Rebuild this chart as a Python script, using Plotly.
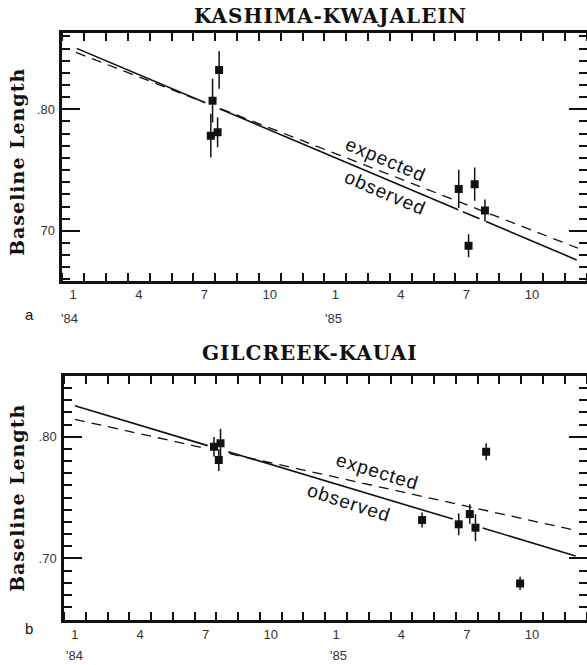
import plotly.graph_objects as go

# x = months since 1 Jan 1984 (month boundaries at integers)
month_bounds = list(range(0, 25))
label_pos = [0.5, 3.5, 6.5, 9.5, 12.5, 15.5, 18.5, 21.5]
label_text = ["1", "4", "7", "10", "1", "4", "7", "10"]
year_text = ["'84", "'85"]

# Panel a: KASHIMA-KWAJALEIN
a_month = [6.80, 6.88, 7.11, 7.18, 18.15, 18.60, 18.88, 19.35]
a_value = [0.7783, 0.8071, 0.7811, 0.8323, 0.7345, 0.6877, 0.7384, 0.7167]
a_err = [0.018, 0.018, 0.0123, 0.0155, 0.0157, 0.0095, 0.0137, 0.009]
a_obs_month = [0.66, 6.55, None, 7.2, 18.13, None, 18.34, 19.1, None, 19.4, 23.55]
a_obs_value = [0.8501, 0.8053, None, 0.8004, 0.7173, None, 0.7157, 0.7100, None, 0.7077, 0.6761]
a_exp_month = [0.63, 6.5, None, 7.25, 23.6]
a_exp_value = [0.8468, 0.8057, None, 0.8004, 0.6858]

# Panel b: GILCREEK-KAUAI
b_month = [6.89, 7.11, 7.19, 16.45, 18.13, 18.64, 18.90, 19.39, 20.95]
b_value = [0.7918, 0.7808, 0.7946, 0.7315, 0.7280, 0.7364, 0.7252, 0.7877, 0.6794]
b_err = [0.008, 0.009, 0.012, 0.0062, 0.009, 0.008, 0.011, 0.007, 0.0055]
b_obs_month = [0.5, 6.6, None, 7.54, 17.86, None, 19.23, 23.5]
b_obs_value = [0.8255, 0.7927, None, 0.7877, 0.7323, None, 0.7249, 0.7020]
b_exp_month = [0.5, 6.5, None, 7.6, 23.5]
b_exp_value = [0.8143, 0.7905, None, 0.7861, 0.7230]

FW, FH = 587, 665


def xp(px):
    return px / FW


def yp(py):
    return 1 - py / FH


BLACK = "#111111"
TICKFONT = dict(family="Liberation Sans, Arial, sans-serif", size=13, color="#333333")
SERIF_B = dict(family="DejaVu Serif, serif", size=20, color=BLACK, weight="bold")
LABFONT = dict(family="Liberation Sans, Arial, sans-serif", size=19, color=BLACK)

fig = go.Figure()


def add_panel(xa, ya, months, values, errs, om, ov, em, ev):
    fig.add_trace(go.Scatter(x=om, y=ov, mode="lines", xaxis=xa, yaxis=ya,
                             line=dict(color=BLACK, width=1.6), connectgaps=False,
                             showlegend=False, hoverinfo="skip"))
    fig.add_trace(go.Scatter(x=em, y=ev, mode="lines", xaxis=xa, yaxis=ya,
                             line=dict(color=BLACK, width=1.3, dash="10px,7px"),
                             connectgaps=False, showlegend=False, hoverinfo="skip"))
    fig.add_trace(go.Scatter(x=months, y=values, mode="markers", xaxis=xa, yaxis=ya,
                             marker=dict(symbol="square", size=8, color=BLACK),
                             error_y=dict(type="data", array=errs, visible=True,
                                          thickness=1.5, width=0, color=BLACK),
                             showlegend=False))


add_panel("x", "y", a_month, a_value, a_err, a_obs_month, a_obs_value, a_exp_month, a_exp_value)
add_panel("x2", "y2", b_month, b_value, b_err, b_obs_month, b_obs_value, b_exp_month, b_exp_value)


def xaxis_cfg(domain, anchor):
    return dict(domain=domain, anchor=anchor, range=[0, 24], automargin=False,
                tickmode="array", tickvals=label_pos, ticktext=label_text,
                ticks="", tickfont=TICKFONT, ticklabelstandoff=0,
                minor=dict(tickmode="array", tickvals=month_bounds, ticks="inside",
                           ticklen=8, tickwidth=1.5, tickcolor=BLACK),
                showline=True, linecolor=BLACK, linewidth=3, mirror="ticks",
                showgrid=False, zeroline=False, fixedrange=True)


def yaxis_cfg(domain, anchor, rng, ticktext):
    return dict(domain=domain, anchor=anchor, range=rng, automargin=False,
                tickmode="array", tickvals=[0.70, 0.80], ticktext=ticktext,
                ticks="inside", ticklen=18, tickwidth=2, tickcolor=BLACK,
                tickfont=TICKFONT, ticklabelstandoff=2,
                minor=dict(tickmode="linear", tick0=0, dtick=0.01, ticks="inside",
                           ticklen=8, tickwidth=1.5, tickcolor=BLACK),
                showline=True, linecolor=BLACK, linewidth=2.5, mirror="ticks",
                showgrid=False, zeroline=False, fixedrange=True)


fig.update_layout(
    width=FW, height=FH,
    margin=dict(l=0, r=0, t=0, b=0, pad=0, autoexpand=False),
    paper_bgcolor="white", plot_bgcolor="white",
    xaxis=xaxis_cfg([xp(62.3), xp(586.5)], "y"),
    yaxis=yaxis_cfg([yp(280.7), yp(33.3)], "x", [0.659, 0.8625], ["70", ".80"]),
    xaxis2=xaxis_cfg([xp(64), xp(586.5)], "y2"),
    yaxis2=yaxis_cfg([yp(620), yp(375.7)], "x2", [0.6493, 0.8502], [".70", ".80"]),
)

ann = []
# titles
ann.append(dict(text='<span style="letter-spacing:1px">KASHIMA-KWAJALEIN</span>',
                x=xp(330), y=yp(16), xref="paper", yref="paper",
                showarrow=False, font=SERIF_B, xanchor="center", yanchor="middle"))
ann.append(dict(text='<span style="letter-spacing:1px">GILCREEK-KAUAI</span>',
                x=xp(310), y=yp(353), xref="paper", yref="paper",
                showarrow=False, font=SERIF_B, xanchor="center", yanchor="middle"))
# y titles
for yc in (162, 498):
    ann.append(dict(text='<span style="letter-spacing:1px">Baseline Length</span>',
                    x=xp(17), y=yp(yc), xref="paper", yref="paper",
                    showarrow=False, textangle=-90,
                    font=dict(family="DejaVu Serif, serif", size=19, color=BLACK, weight="bold"),
                    xanchor="center", yanchor="middle"))
# panel letters
ann.append(dict(text="a", x=xp(22.7), y=yp(314), xref="paper", yref="paper", showarrow=False,
                font=dict(family="Liberation Sans, Arial, sans-serif", size=15, color=BLACK)))
ann.append(dict(text="b", x=xp(22.7), y=yp(639), xref="paper", yref="paper", showarrow=False,
                font=dict(family="Liberation Sans, Arial, sans-serif", size=15, color=BLACK)))
# year labels
for xr, yy, pos in (("x", 318.5, [0.35, 12.4]), ("x2", 655, [0.5, 12.6])):
    for p, t in zip(pos, year_text):
        ann.append(dict(text=t, x=p, y=yp(yy), xref=xr, yref="paper", showarrow=False,
                        font=TICKFONT, xanchor="center", yanchor="middle"))
# line labels
LS = '<span style="letter-spacing:1px">%s</span>'
ann.append(dict(text=LS % "expected", x=14.8, y=0.7583, xref="x", yref="y", showarrow=False,
                textangle=23, font=LABFONT))
ann.append(dict(text=LS % "observed", x=14.76, y=0.7312, xref="x", yref="y", showarrow=False,
                textangle=23, font=LABFONT))
ann.append(dict(text=LS % "expected", x=14.4, y=0.7718, xref="x2", yref="y2", showarrow=False,
                textangle=17, font=LABFONT))
ann.append(dict(text=LS % "observed", x=13.07, y=0.7463, xref="x2", yref="y2", showarrow=False,
                textangle=18, font=LABFONT))
fig.update_layout(annotations=ann)

fig.write_html("out.html", config={"displayModeBar": False},
               post_script="document.body.style.margin='0px';")
